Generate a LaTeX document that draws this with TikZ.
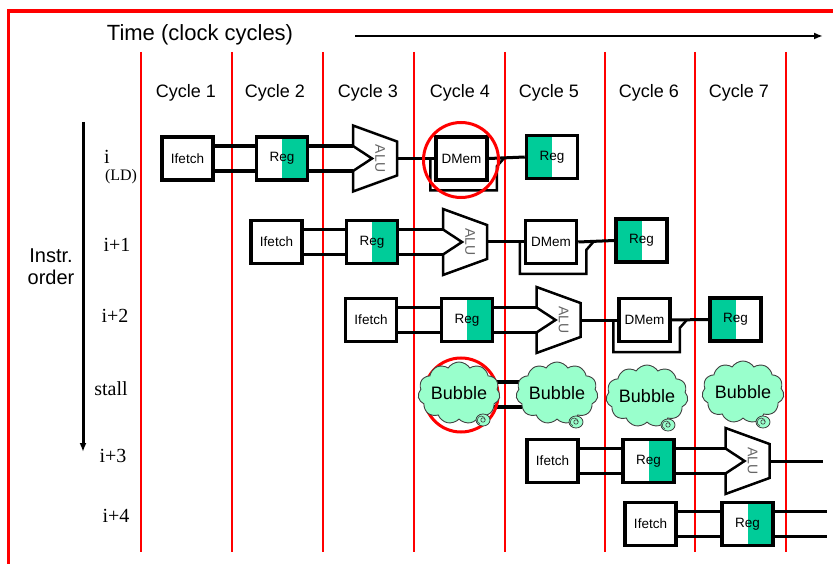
\documentclass[tikz,border=0pt]{standalone}
\usepackage{fontspec}
\setmainfont{Liberation Serif}
\setsansfont{Liberation Sans}
\usetikzlibrary{shapes.symbols,arrows.meta,backgrounds}

\definecolor{regGreen}{RGB}{0,204,153}
\definecolor{bubbleGreen}{RGB}{153,255,204}

\tikzset{
  stagebox/.style={draw=black, line width=3.5pt, fill=white, minimum width=51pt,
    minimum height=43pt, inner sep=0pt, font=\sffamily\fontsize{13.5}{15}\selectfont},
  regread/.style={stagebox, path picture={\fill[regGreen] (path picture bounding box.north)
    rectangle (path picture bounding box.south east);}},
  regwrite/.style={stagebox, path picture={\fill[regGreen] (path picture bounding box.south west)
    rectangle (path picture bounding box.north);}},
  rail/.style={line width=3.5pt},
  wire/.style={line width=3pt},
  loopwire/.style={line width=2.5pt, line join=miter},
  aluedge/.style={draw=black, line width=2.5pt, fill=white, line join=miter},
  alulabel/.style={text=black!60, rotate=-90, inner sep=0pt, font=\sffamily\fontsize{14}{16}\selectfont},
  bubble/.style={cloud, cloud puffs=11, cloud puff arc=115, cloud ignores aspect,
    minimum width=82pt, minimum height=62pt, inner sep=0pt, draw=black!75, line width=0.9pt,
    fill=bubbleGreen, font=\sffamily\fontsize{18}{20}\selectfont},
  bubbletail/.style={draw=black!75, line width=0.8pt, fill=bubbleGreen},
  gridline/.style={red, line width=1.1pt},
  cyclelabel/.style={font=\sffamily\fontsize{18}{20}\selectfont, inner sep=0pt},
  rowlabel/.style={font=\fontsize{20}{22}\selectfont, inner sep=0pt},
  hazard/.style={red, line width=3pt},
  alu/.pic={
    \draw[aluedge] (-22,-33) -- (22,-17) -- (22,17) -- (-22,33) -- (-22,12.5)
      -- (-3,0) -- (-22,-12.5) -- cycle;
    \coordinate (-inT) at (-22,-12.5);
    \coordinate (-inB) at (-22,12.5);
    \coordinate (-out) at (22,0);
    \node[alulabel] (-txt) at (5,0) {ALU};
  }
}

% two parallel buses between two stage boxes
\newcommand\tworails[2]{%
  \draw[rail] ([yshift=12.5pt]#1.east) -- ([yshift=12.5pt]#2.west);
  \draw[rail] ([yshift=-12.5pt]#1.east) -- ([yshift=-12.5pt]#2.west);}
% register file feeding the ALU inputs
\newcommand\toalu[2]{%
  \draw[rail] ([yshift=12.5pt]#1.east) -- (#2-inT);
  \draw[rail] ([yshift=-12.5pt]#1.east) -- (#2-inB);}
% bypass loop drawn under a data memory box
\newcommand\memloop[1]{%
  \draw[loopwire] ([xshift=-4pt]#1.west) -- ++(0,32) -| ([xshift=8pt,yshift=-8pt]#1.east)
    -- ([xshift=15pt]#1.east);}

\begin{document}
\begin{tikzpicture}[x=1pt,y=-1pt]
\useasboundingbox (0,0) rectangle (833,564);

% frame
\draw[red, line width=4pt] (7,11) -- (833,11);
\draw[red, line width=3pt] (8.5,9) -- (8.5,564);

% title and time axis
\node[font=\sffamily\fontsize{22}{24}\selectfont, inner sep=0pt] (time) at (200,35) {Time (clock cycles)};
\coordinate (tA) at (355,36);
\coordinate (tB) at (823,36);
\draw[line width=2.5pt, -{Latex[length=9pt,width=7pt]}] (tA) -- (tB);

% cycle labels
\node[cyclelabel] (c1) at (186,93) {Cycle 1};
\node[cyclelabel] (c2) at (275,93) {Cycle 2};
\node[cyclelabel] (c3) at (368,93) {Cycle 3};
\node[cyclelabel] (c4) at (460,93) {Cycle 4};
\node[cyclelabel] (c5) at (549,93) {Cycle 5};
\node[cyclelabel] (c6) at (649,93) {Cycle 6};
\node[cyclelabel] (c7) at (739,93) {Cycle 7};

% instruction order axis
\node[font=\sffamily\fontsize{20}{22}\selectfont, align=center, inner sep=0pt] (order) at (51,267) {Instr.\\order};
\coordinate (oA) at (83,122);
\coordinate (oB) at (83,452);
\draw[line width=3pt, -{Latex[length=9pt,width=7pt]}] (oA) -- (oB);

% row labels
\node[rowlabel] (li) at (107,157) {i};
\node[font=\fontsize{16}{18}\selectfont, inner sep=0pt] (lld) at (121,177) {(LD)};
\node[rowlabel] (li1) at (117,245) {i+1};
\node[rowlabel] (li2) at (115,316) {i+2};
\node[rowlabel] (lst) at (111,389) {stall};
\node[rowlabel] (li3) at (113,456) {i+3};
\node[rowlabel] (li4) at (116,516) {i+4};

% cycle boundaries
\begin{pgfonlayer}{background}
  \foreach \x in {141,232,323,414,505,605,695,786}
    \draw[gridline] (\x,52) -- (\x,552);
\end{pgfonlayer}

% row i (LD)
\node[stagebox] (ifA) at (187.5,158.5) {Ifetch};
\node[regread] (regA) at (282,158.5) {Reg};
\pic (aluA) at (375,158.5) {alu};
\node[stagebox] (dmA) at (461.5,158.5) {DMem};
\node[regwrite] (wbA) at (552,157) {Reg};

% row i+1
\node[stagebox] (ifB) at (276.5,242) {Ifetch};
\node[regread] (regB) at (372,242) {Reg};
\pic (aluB) at (465,242) {alu};
\node[stagebox] (dmB) at (551,242) {DMem};
\node[regwrite] (wbB) at (641.5,240.5) {Reg};

% row i+2
\node[stagebox] (ifC) at (371,320) {Ifetch};
\node[regread] (regC) at (467,320) {Reg};
\pic (aluC) at (558.5,320) {alu};
\node[stagebox] (dmC) at (644.5,320) {DMem};
\node[regwrite] (wbC) at (735.5,319.5) {Reg};

% stall row
\node[bubble] (b1) at (459,393) {Bubble};
\node[bubble] (b2) at (557,393) {Bubble};
\node[bubble] (b3) at (647,396) {Bubble};
\node[bubble] (b4) at (743,392) {Bubble};

% row i+3
\node[stagebox] (ifD) at (552.5,461) {Ifetch};
\node[regread] (regD) at (648.5,461) {Reg};
\pic (aluD) at (747.5,461) {alu};
\coordinate (eD) at (823,461);

% row i+4
\node[stagebox] (ifE) at (650.5,524) {Ifetch};
\node[regread] (regE) at (747.5,524) {Reg};
\coordinate (eE1) at (827,511.5);
\coordinate (eE2) at (827,536.5);

% datapath wiring
\begin{pgfonlayer}{background}
  \tworails{ifA}{regA} \toalu{regA}{aluA}
  \draw[wire] (aluA-out) -- (dmA.west);
  \draw[wire] (dmA.east) -- (wbA.west);

  \tworails{ifB}{regB} \toalu{regB}{aluB}
  \draw[wire] (aluB-out) -- (dmB.west);
  \draw[wire] (dmB.east) -- (wbB.west);

  \tworails{ifC}{regC} \toalu{regC}{aluC}
  \draw[wire] (aluC-out) -- (dmC.west);
  \draw[wire] (dmC.east) -- (wbC.west);

  \draw[rail] ([xshift=-6pt,yshift=11pt]b1.center -| b1.east) -- ([xshift=6pt,yshift=11pt]b1.center -| b2.west);
  \draw[rail] ([xshift=-6pt,yshift=-14pt]b1.center -| b1.east) -- ([xshift=6pt,yshift=-14pt]b1.center -| b2.west);

  \tworails{ifD}{regD} \toalu{regD}{aluD}
  \draw[wire] (aluD-out) -- (eD);

  \tworails{ifE}{regE}
  \draw[rail] ([yshift=12.5pt]regE.east) -- (eE1);
  \draw[rail] ([yshift=-12.5pt]regE.east) -- (eE2);

  % hazard mark behind the first bubble
  \draw[hazard] (461,395) circle (37);
\end{pgfonlayer}

\memloop{dmA}
\memloop{dmB}
\memloop{dmC}

% bubble tails
\foreach \tx/\ty in {483/420, 576/422, 668/425, 763/422} {
  \draw[bubbletail] (\tx,\ty) ellipse (7 and 6);
  \draw[black!75, line width=0.6pt] (\tx,\ty) circle (2.2);
  \draw[black!75, line width=0.6pt] (\tx+2.2,\ty) arc (0:-250:4);
}

% hazard mark on the load's memory access
\draw[hazard] (461,160) circle (37.5);
\end{tikzpicture}
\end{document}
